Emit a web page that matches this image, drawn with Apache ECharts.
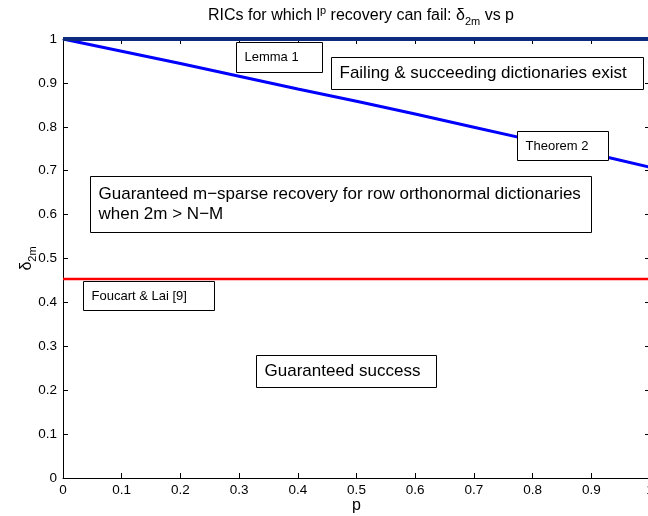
<!DOCTYPE html>
<html>
<head>
<meta charset="utf-8">
<script src="https://cdn.jsdelivr.net/npm/echarts@6/dist/echarts.min.js"></script>
<style>
    html, body { margin: 0; padding: 0; background: #fff; }
    #chart { width: 648px; height: 516px; }
</style>
</head>
<body>
<div id="chart"></div>
<script>
// p values along the x axis
var pValues = [0, 0.1, 0.2, 0.3, 0.4, 0.5, 0.6, 0.7, 0.8, 0.9, 1];
// Theorem 2 bound (blue curve)
var theorem2 = [1, 0.972, 0.944, 0.915, 0.886, 0.858, 0.829, 0.799, 0.769, 0.739, 0.708];
// Lemma 1 line at delta = 1
var lemma1 = [1, 1];
// Foucart & Lai constant
var foucartLai = [0.4531, 0.4531];
var lineEnds = [0, 1];

// annotation boxes: text, top-left corner in data coords, box size, font size
var notes = [
    { text: 'Lemma 1', p: 0.295, d: 0.993, w: 86, h: 30, fs: 13 },
    { text: 'Failing & succeeding dictionaries exist', p: 0.457, d: 0.959, w: 312, h: 32, fs: 17 },
    { text: 'Theorem 2', p: 0.774, d: 0.790, w: 91, h: 29, fs: 13 },
    { text: 'Guaranteed m\u2212sparse recovery for row orthonormal dictionaries\nwhen 2m > N\u2212M', p: 0.046, d: 0.688, w: 501, h: 56, fs: 17 },
    { text: 'Foucart & Lai [9]', p: 0.034, d: 0.449, w: 131, h: 29, fs: 13 },
    { text: 'Guaranteed success', p: 0.329, d: 0.280, w: 180, h: 32, fs: 17 }
];

var font = 'Liberation Sans, Arial, Helvetica, sans-serif';
var el = document.getElementById('chart');
var myChart = echarts.init(el, null, { renderer: 'canvas' });

function pairs(xs, ys) {
    return xs.map(function (x, i) { return [x, ys[i]]; });
}
function fmt(v) {
    return (Math.round(v * 10) / 10).toString();
}

var axisCommon = {
    type: 'value',
    min: 0,
    max: 1,
    interval: 0.1,
    splitLine: { show: false },
    axisLine: { show: true, onZero: false, lineStyle: { color: '#000', width: 1 } },
    axisTick: { show: true, inside: true, length: 5, lineStyle: { color: '#000' } }
};

var option = {
    animation: false,
    backgroundColor: '#fff',
    title: {
        text: 'RICs for which l{sup|p} recovery can fail: \u03b4{sub|2m} vs p',
        left: 356,
        top: -1,
        textAlign: 'center',
        textStyle: {
            fontFamily: font,
            fontSize: 16,
            fontWeight: 'normal',
            color: '#000',
            rich: {
                sup: { fontFamily: font, fontSize: 11, color: '#000', padding: [0, 0, 10, 0] },
                sub: { fontFamily: font, fontSize: 11, color: '#000', padding: [12, 0, 0, 0] }
            }
        }
    },
    grid: { left: 63, top: 39, width: 587, height: 439, containLabel: false, outerBoundsMode: 'none' },
    xAxis: [
        Object.assign({}, axisCommon, {
            position: 'bottom',
            name: 'p',
            nameLocation: 'middle',
            nameGap: 20,
            nameMoveOverlap: false,
            nameTextStyle: { fontFamily: font, fontSize: 16, color: '#000', verticalAlign: 'top' },
            axisLabel: { fontFamily: font, fontSize: 13.5, color: '#000', margin: 5, formatter: fmt }
        }),
        Object.assign({}, axisCommon, {
            position: 'top',
            axisLabel: { show: false }
        })
    ],
    yAxis: [
        Object.assign({}, axisCommon, {
            position: 'left',
            name: '\u03b4{sub|2m}',
            nameLocation: 'middle',
            nameRotate: 90,
            nameGap: 25,
            nameMoveOverlap: false,
            nameTextStyle: {
                fontFamily: font, fontSize: 16, color: '#000',
                rich: { sub: { fontFamily: font, fontSize: 11, color: '#000', padding: [12, 0, 0, 0] } }
            },
            axisLabel: { fontFamily: font, fontSize: 13.5, color: '#000', margin: 6, formatter: fmt }
        }),
        Object.assign({}, axisCommon, {
            position: 'right',
            axisLabel: { show: false }
        })
    ],
    series: [
        {
            name: 'Foucart & Lai',
            type: 'line',
            data: pairs(lineEnds, foucartLai),
            showSymbol: false,
            lineStyle: { color: '#ff0000', width: 2.5 },
            z: 3
        },
        {
            name: 'Theorem 2',
            type: 'line',
            data: pairs(pValues, theorem2),
            showSymbol: false,
            clip: false,
            lineStyle: { color: '#0000ff', width: 3 },
            z: 4
        },
        {
            name: 'Lemma 1',
            type: 'line',
            data: pairs(lineEnds, lemma1),
            showSymbol: false,
            clip: false,
            lineStyle: { color: '#0d2a7c', width: 4 },
            z: 5
        }
    ]
};

myChart.setOption(option);

// place the boxed annotations from their data coordinates
var graphics = notes.map(function (n) {
    var pt = myChart.convertToPixel({ gridIndex: 0 }, [n.p, n.d]);
    return {
        type: 'group',
        x: Math.round(pt[0]) + 0.5,
        y: Math.round(pt[1]) + 0.5,
        children: [
            {
                type: 'rect',
                z: 100,
                shape: { x: 0, y: 0, width: n.w, height: n.h },
                style: { fill: '#fff', stroke: '#000', lineWidth: 1 }
            },
            {
                type: 'text',
                z: 101,
                x: 8,
                y: n.h / 2,
                style: {
                    text: n.text,
                    font: n.fs + 'px ' + font,
                    fill: '#000',
                    lineHeight: n.fs + 3,
                    verticalAlign: 'middle',
                    align: 'left'
                }
            }
        ]
    };
});
myChart.setOption({ graphic: graphics });
</script>
</body>
</html>
